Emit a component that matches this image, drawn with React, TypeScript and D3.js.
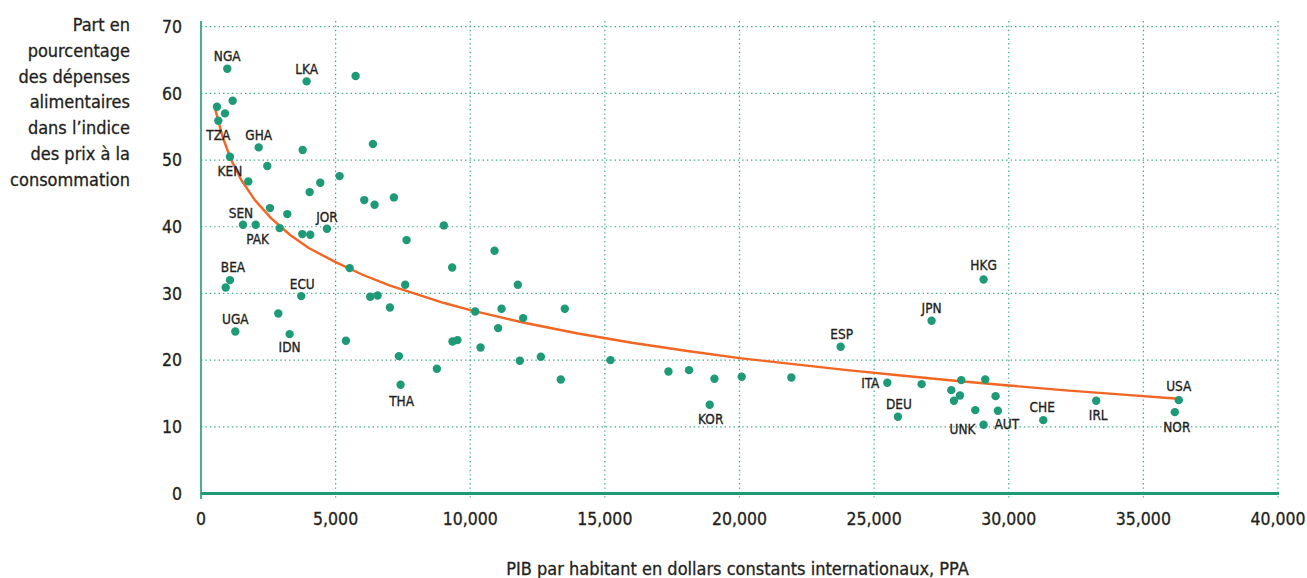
import React, { useRef, useEffect } from "react";
import * as d3 from "d3";

// GDP per capita (PPP, constant intl $) vs food share of CPI
const gdp = [
  976, 3923, 5742, 1176, 594, 891, 643, 2142, 3775, 6385, 1076, 2461, 5148,
  1756, 4430, 4035, 6063, 6447, 7164, 2561, 3205, 1559, 2030, 2921, 3761,
  4058, 4677, 7635, 9020, 5520, 9328, 1076, 916, 3723, 2870, 1274, 3292,
  5382, 6285, 6560, 7016, 7584, 7350, 7412, 8760, 9340, 9527, 10183, 10382,
  10902, 11767, 11162, 13512, 11965, 11036, 11842, 12621, 13363, 15208,
  17361, 18126, 19069, 18894, 20082, 21926, 23757, 25490, 26764, 25884,
  27135, 29065, 28236, 29127, 27866, 28187, 27964, 29510, 28757, 29596,
  29065, 31282, 33248, 36315, 36167,
];
const foodShare = [
  63.7, 61.8, 62.6, 58.9, 58.0, 57.0, 55.9, 51.9, 51.5, 52.4, 50.5, 49.1,
  47.6, 46.8, 46.6, 45.2, 44.0, 43.3, 44.4, 42.8, 41.9, 40.3, 40.3, 39.8,
  38.9, 38.8, 39.7, 38.0, 40.2, 33.8, 33.9, 32.0, 30.9, 29.6, 27.0, 24.3,
  23.9, 22.9, 29.5, 29.7, 27.9, 31.3, 20.6, 16.3, 18.7, 22.8, 23.0, 27.3,
  21.9, 36.4, 31.3, 27.7, 27.7, 26.3, 24.8, 19.9, 20.5, 17.1, 20.0, 18.3,
  18.5, 17.2, 13.3, 17.5, 17.4, 22.0, 16.6, 16.4, 11.5, 25.9, 32.1, 17.0,
  17.1, 15.5, 14.7, 13.9, 14.6, 12.5, 12.4, 10.3, 11.0, 13.9, 14.0, 12.2,
];
const country = [
  "NGA", "LKA", "", "", "", "", "TZA", "GHA", "", "", "KEN", "", "",
  "", "", "", "", "", "", "", "", "SEN", "PAK", "", "",
  "", "JOR", "", "", "", "", "BEA", "", "ECU", "", "UGA", "IDN",
  "", "", "", "", "", "", "THA", "", "", "", "", "",
  "", "", "", "", "", "", "", "", "", "",
  "", "", "", "KOR", "", "", "ESP", "ITA", "", "DEU",
  "JPN", "HKG", "", "", "", "", "", "", "", "AUT",
  "UNK", "CHE", "IRL", "USA", "NOR",
];

// fitted curve
const fitX = [
  530, 800, 1100, 1500, 2000, 2600, 3300, 4000, 5000, 6000, 7000, 8000,
  9000, 10000, 12000, 14000, 16000, 18000, 20000, 22000, 24000, 26000,
  28000, 30000, 32000, 34000, 36300,
];
const fitY = [
  57.6, 53.5, 50.2, 47.0, 44.0, 41.3, 38.8, 36.8, 34.7, 32.8, 31.2, 29.9,
  28.6, 27.5, 25.6, 24.0, 22.6, 21.4, 20.3, 19.4, 18.5, 17.7, 16.9, 16.2,
  15.5, 14.9, 14.2,
];

const xTicks = [0, 5000, 10000, 15000, 20000, 25000, 30000, 35000, 40000];
const yTicks = [0, 10, 20, 30, 40, 50, 60, 70];
const yTitle = [
  "Part en",
  "pourcentage",
  "des dépenses",
  "alimentaires",
  "dans l’indice",
  "des prix à la",
  "consommation",
];
const xTitle = "PIB par habitant en dollars constants internationaux, PPA";

// where each country label sits relative to its dot
const labelOffsets = {
  NGA: [0, -13], LKA: [0, -12], TZA: [0, 14], GHA: [0, -12], KEN: [0, 14],
  SEN: [-2, -12], PAK: [2, 14], JOR: [0, -12], BEA: [3, -13], ECU: [1, -12],
  UGA: [0, -12], IDN: [0, 13], THA: [1, 16], KOR: [1, 14], ESP: [1, -13],
  JPN: [0, -13], ITA: [-17, 0], DEU: [1, -13], HKG: [0, -14], UNK: [-21, 4],
  AUT: [9, 13], CHE: [-1, -13], IRL: [2, 14], USA: [0, -14], NOR: [2, 15],
};

const FONT = "'DejaVu Sans Condensed', 'DejaVu Sans', sans-serif";
const INK = "#231f20";
const GREEN = "#1f9a76";
const GRID = "#3aa887";
const ORANGE = "#f26522";

const App = () => {
  const ref = useRef(null);

  useEffect(() => {
    const svg = d3.select(ref.current);
    svg.selectAll("*").remove();

    const x = d3.scaleLinear().domain([0, 40000]).range([201, 1278]);
    const y = d3.scaleLinear().domain([0, 70]).range([493.5, 26.7]);

    // grid
    svg
      .append("g")
      .selectAll("line")
      .data(yTicks.filter((d) => d > 0))
      .join("line")
      .attr("x1", x(0))
      .attr("x2", x(40000) + 1)
      .attr("y1", (d) => y(d))
      .attr("y2", (d) => y(d))
      .attr("stroke", GRID)
      .attr("stroke-width", 1.2)
      .attr("stroke-dasharray", "1.4,3");

    svg
      .append("g")
      .selectAll("line")
      .data(xTicks.filter((d) => d > 0))
      .join("line")
      .attr("x1", (d) => x(d))
      .attr("x2", (d) => x(d))
      .attr("y1", 21)
      .attr("y2", 500)
      .attr("stroke", GRID)
      .attr("stroke-width", 1.2)
      .attr("stroke-dasharray", "1.4,3");

    // axes
    svg
      .append("line")
      .attr("x1", x(0))
      .attr("x2", x(0))
      .attr("y1", 21)
      .attr("y2", 499)
      .attr("stroke", GREEN)
      .attr("stroke-width", 1.6);

    svg
      .append("line")
      .attr("x1", x(0))
      .attr("x2", x(40000) + 1)
      .attr("y1", y(0))
      .attr("y2", y(0))
      .attr("stroke", GREEN)
      .attr("stroke-width", 3);

    const txt = (sel, size) =>
      sel
        .attr("font-family", FONT)
        .attr("font-size", size)
        .attr("fill", INK)
        .attr("stroke", INK)
        .attr("stroke-width", 0.3);

    // tick labels
    svg
      .append("g")
      .selectAll("text")
      .data(yTicks)
      .join("text")
      .attr("x", 182)
      .attr("y", (d) => y(d))
      .attr("dy", "0.36em")
      .attr("text-anchor", "end")
      .call(txt, 17.5)
      .text((d) => d);

    svg
      .append("g")
      .selectAll("text")
      .data(xTicks)
      .join("text")
      .attr("x", (d) => x(d))
      .attr("y", 525)
      .attr("text-anchor", "middle")
      .call(txt, 17.5)
      .text((d) => d3.format(",")(d));

    // titles
    svg
      .append("g")
      .selectAll("text")
      .data(yTitle)
      .join("text")
      .attr("x", 130)
      .attr("y", (_, i) => 31 + i * 25.8)
      .attr("text-anchor", "end")
      .call(txt, 18)
      .text((d) => d);

    svg
      .append("text")
      .attr("x", 737.5)
      .attr("y", 575)
      .attr("text-anchor", "middle")
      .call(txt, 18)
      .text(xTitle);

    // fitted line
    const line = d3
      .line()
      .x((d) => x(d[0]))
      .y((d) => y(d[1]));

    svg
      .append("path")
      .datum(fitX.map((d, i) => [d, fitY[i]]))
      .attr("d", line)
      .attr("fill", "none")
      .attr("stroke", ORANGE)
      .attr("stroke-width", 2.4);

    // dots
    const pts = gdp.map((d, i) => ({ gx: d, fy: foodShare[i], code: country[i] }));

    svg
      .append("g")
      .selectAll("circle")
      .data(pts)
      .join("circle")
      .attr("cx", (d) => x(d.gx))
      .attr("cy", (d) => y(d.fy))
      .attr("r", 4.2)
      .attr("fill", GREEN);

    svg
      .append("g")
      .selectAll("text")
      .data(pts.filter((d) => d.code))
      .join("text")
      .attr("x", (d) => x(d.gx) + labelOffsets[d.code][0])
      .attr("y", (d) => y(d.fy) + labelOffsets[d.code][1])
      .attr("dy", "0.36em")
      .attr("text-anchor", "middle")
      .call(txt, 13.5)
      .text((d) => d.code);
  }, []);

  return (
    <div style={{ position: "absolute", left: 0, top: 0 }}>
      <svg ref={ref} width={1307} height={578}></svg>
    </div>
  );
};

export default App;
